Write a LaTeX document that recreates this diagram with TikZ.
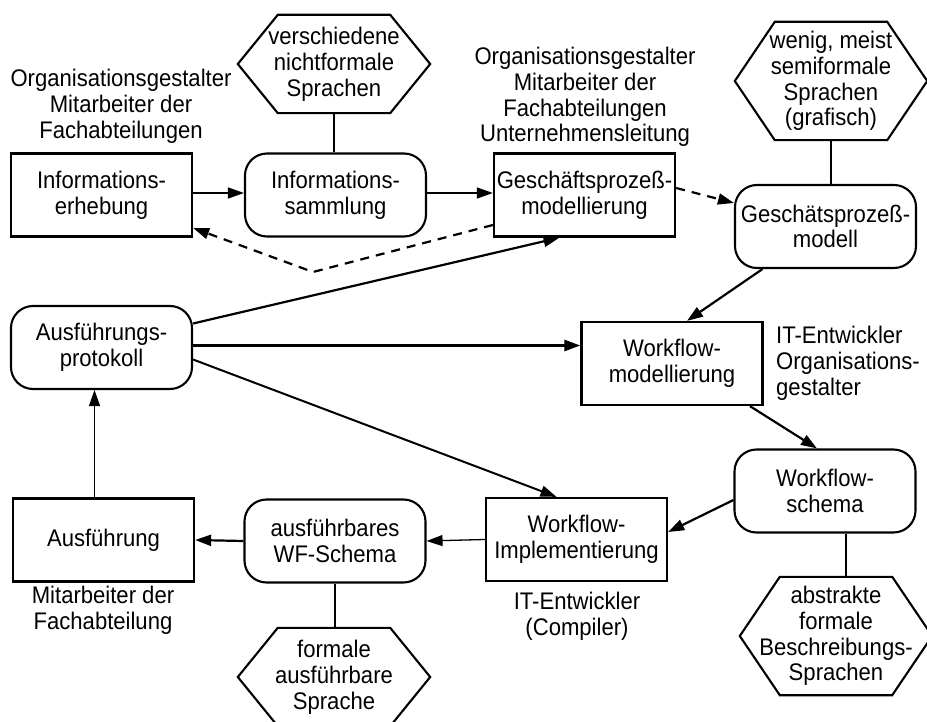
\documentclass[tikz,border=0pt]{standalone}
\usepackage{fontspec}
\setmainfont{Liberation Sans}[FakeStretch=0.92]
\usetikzlibrary{arrows.meta}
\begin{document}
\begin{tikzpicture}[x=1pt,y=-1pt,
  every node/.style={font=\fontsize{24}{25.8}\selectfont, align=center, inner sep=0pt},
  task/.style={draw, line width=2.3pt, minimum width=181pt, minimum height=83pt},
  store/.style={task, rounded corners=22pt, line width=2.1pt},
  hexa/.style={minimum width=192pt, minimum height=#1},
  hexline/.style={line width=2.1pt, line join=miter},
  tip/.style={-{Triangle[length=16pt,width=11pt]}},
  thinarrow/.style={tip, line width=1.3pt},
  thickarrow/.style={tip, line width=2.2pt},
  dasharrow/.style={thickarrow, line width=2.2pt, dash pattern=on 9pt off 7pt},
  thinlink/.style={line width=1.3pt},
  thicklink/.style={line width=2.4pt}
]
\useasboundingbox (0,0) rectangle (927,722);
\clip (0,0) rectangle (927,722);

% activities (rectangles)
\node[task]  (erheb) at (101.5,195)   {Informations-\\erhebung};
\node[task]  (gpm)   at (584.5,195)   {Geschäftsprozeß-\\modellierung};
\node[task]  (wfm)   at (672,363.5)   {Workflow-\\modellierung};
\node[task]  (wfi)   at (576.5,539.5) {Workflow-\\Implementierung};
\node[task]  (ausf)  at (103.5,540)   {Ausführung};

% results (rounded boxes)
\node[store] (samml) at (335.5,195)   {Informations-\\sammlung};
\node[store] (gpmod) at (825.5,226.5) {Geschätsprozeß-\\modell};
\node[store] (proto) at (101.5,347.5) {Ausführungs-\\protokoll};
\node[store] (wfs)   at (825,491)     {Workflow-\\schema};
\node[store] (exwf)  at (335,541)     {ausführbares\\WF-Schema};

% languages (hexagons)
\node[hexa=98pt]  (hx1) at (334,64)   {verschiedene\\nichtformale\\Sprachen};
\node[hexa=118pt] (hx2) at (831,81)   {wenig, meist\\semiformale\\Sprachen\\(grafisch)};
\node[hexa=98pt]  (hx3) at (334,677)  {formale\\ausführbare\\Sprache};
\node[hexa=118pt] (hx4) at (836,636)  {abstrakte\\formale\\Beschreibungs-\\Sprachen};
\foreach \h in {hx1,hx2,hx3,hx4}
  \draw[hexline] ([xshift=40pt]\h.north west) -- ([xshift=-40pt]\h.north east)
    -- (\h.east) -- ([xshift=-40pt]\h.south east) -- ([xshift=40pt]\h.south west)
    -- (\h.west) -- cycle;

% roles
\node (r1) at (121,106) {Organisationsgestalter\\Mitarbeiter der\\Fachabteilungen};
\node (r2) at (585,97)  {Organisationsgestalter\\Mitarbeiter der\\Fachabteilungen\\Unternehmensleitung};
\node[anchor=west, align=left] (r3) at (776,363) {IT-Entwickler\\Organisations-\\gestalter};
\node (r4) at (577,616) {IT-Entwickler\\(Compiler)};
\node (r5) at (103,610) {Mitarbeiter der\\Fachabteilung};

% language links
\draw[thicklink] (hx1.south) -- (hx1.south |- samml.north);
\draw[thinlink]  (hx2.south) -- (hx2.south |- gpmod.north);
\draw[thinlink]  (exwf.south) -- (exwf.south |- hx3.north);
\draw[thicklink] ([xshift=21pt]wfs.south) coordinate (wl) -- (wl |- hx4.north);

% flow
\draw[thinarrow] ([yshift=2pt]erheb.east) -- ([yshift=2pt]samml.west);
\draw[thinarrow] ([yshift=2pt]samml.east) -- ([yshift=2pt]gpm.west);
\coordinate (dip) at (313,272);
\draw[dasharrow] ([yshift=-30pt]gpm.west) -- (dip) -- ([yshift=-33pt]erheb.east);
\draw[dasharrow] ([yshift=7pt]gpm.east) -- ([yshift=23.5pt]gpmod.west);
\draw[thickarrow] ([xshift=-63pt]gpmod.south) -- ([xshift=15pt]wfm.north);
\draw[thickarrow] ([xshift=78pt]wfm.south) -- ([xshift=-8pt]wfs.north);
\draw[thickarrow] ([yshift=-9pt]wfs.west) -- ([yshift=7.5pt]wfi.east);
\draw[thinarrow] (wfi.west) -- (exwf.east);
\draw[thickarrow] (exwf.west) -- (ausf.east);
\draw[thinarrow] ([xshift=-9pt]ausf.north) -- ([xshift=-9pt]ausf.north |- proto.south);
\draw[thickarrow] ([yshift=24pt]proto.east) -- ([xshift=-25pt]gpm.south);
\draw[thickarrow, line width=2.7pt] ([yshift=2pt]proto.east) -- ([yshift=2pt]proto.east -| wfm.west);
\draw[thickarrow, line width=2pt] ([yshift=-12pt]proto.east) -- ([xshift=-20pt]wfi.north);
\end{tikzpicture}
\end{document}
